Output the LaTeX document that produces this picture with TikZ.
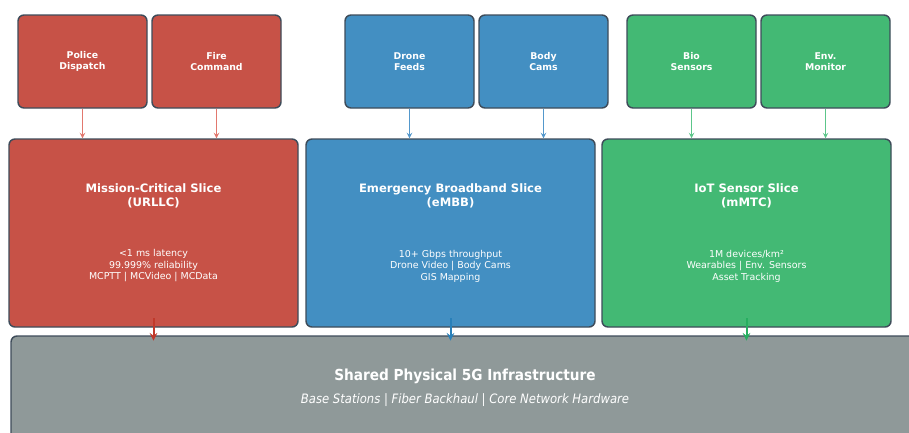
\documentclass[tikz,border=0pt]{standalone}
\usepackage{fontspec}
\setmainfont{DejaVu Sans}
\newfontfamily\condensedfont{DejaVu Sans Condensed}
\usetikzlibrary{shapes.geometric, arrows}
\definecolor{slicered}{RGB}{199,82,71}
\definecolor{sliceblue}{RGB}{67,143,194}
\definecolor{slicegreen}{RGB}{67,185,116}
\definecolor{infragray}{RGB}{143,153,153}
\definecolor{edgegray}{RGB}{62,76,90}
\definecolor{feedred}{RGB}{226,120,110}
\definecolor{feedblue}{RGB}{84,152,204}
\definecolor{feedgreen}{RGB}{92,198,138}
\definecolor{linkred}{RGB}{192,57,43}
\definecolor{linkblue}{RGB}{41,128,185}
\definecolor{linkgreen}{RGB}{39,174,96}
\newcommand{\slicetitle}{\bfseries\fontsize{8.7}{10.5}\selectfont}
\tikzstyle{source} = [rectangle, rounded corners=4.5pt, minimum width=96.75pt, minimum height=69.75pt, text centered, align=center, draw=edgegray, line width=1.1pt, text=white, font=\bfseries\fontsize{7}{8.4}\selectfont]
\tikzstyle{slice} = [rectangle, rounded corners=4.5pt, minimum width=216.75pt, minimum height=141pt, text centered, align=center, draw=edgegray, line width=1.1pt, text=white, font=\fontsize{7.1}{8.6}\selectfont]
\tikzstyle{infra} = [rectangle, rounded corners=4.5pt, minimum width=681pt, minimum height=78pt, text centered, align=center, draw=edgegray, line width=1.1pt, fill=infragray, text=white]
\tikzstyle{feed} = [->,>=stealth, line width=0.8pt]
\tikzstyle{uplink} = [->,>=stealth, line width=1.5pt]

\begin{document}
\begin{tikzpicture}[x=0.75pt, y=-0.75pt]

\useasboundingbox (0,0) rectangle (909,432);

\node (infra) [infra] at (465,388) {{\condensedfont\bfseries\fontsize{11.4}{13.6}\selectfont Shared Physical 5G Infrastructure}\\[5.5pt]{\condensedfont\itshape\fontsize{9.7}{11.6}\selectfont Base Stations | Fiber Backhaul | Core Network Hardware}};

\node (police) [source, fill=slicered] at (82.5,61.5) {Police\\Dispatch};
\node (fire) [source, fill=slicered] at (216.5,61.5) {Fire\\Command};
\node (drone) [source, fill=sliceblue] at (409.5,61.5) {Drone\\Feeds};
\node (body) [source, fill=sliceblue] at (543.5,61.5) {Body\\Cams};
\node (bio) [source, fill=slicegreen] at (691.5,61.5) {Bio\\Sensors};
\node (env) [source, fill=slicegreen] at (825.5,61.5) {Env.\\Monitor};

\node (urllc) [slice, fill=slicered] at (153.5,233) {{\slicetitle Mission-Critical Slice}\\[2pt]{\slicetitle (URLLC)}\\[29pt]\textless1 ms latency\\99.999\% reliability\\MCPTT | MCVideo | MCData};
\node (embb) [slice, fill=sliceblue] at (450.5,233) {{\slicetitle Emergency Broadband Slice}\\[2pt]{\slicetitle (eMBB)}\\[29pt]10+ Gbps throughput\\Drone Video | Body Cams\\GIS Mapping};
\node (mmtc) [slice, fill=slicegreen] at (746.5,233) {{\slicetitle IoT Sensor Slice}\\[2pt]{\slicetitle (mMTC)}\\[29pt]1M devices/km²\\Wearables | Env. Sensors\\Asset Tracking};

\draw [feed, feedred] (police) -- (police |- urllc.north);
\draw [feed, feedred] (fire) -- (fire |- urllc.north);
\draw [feed, feedblue] (drone) -- (drone |- embb.north);
\draw [feed, feedblue] (body) -- (body |- embb.north);
\draw [feed, feedgreen] (bio) -- (bio |- mmtc.north);
\draw [feed, feedgreen] (env) -- (env |- mmtc.north);

\draw [uplink, linkred] ([yshift=7pt]urllc.south) -- ([yshift=-4pt]urllc.south |- infra.north);
\draw [uplink, linkblue] ([yshift=7pt]embb.south) -- ([yshift=-4pt]embb.south |- infra.north);
\draw [uplink, linkgreen] ([yshift=7pt]mmtc.south) -- ([yshift=-4pt]mmtc.south |- infra.north);

\end{tikzpicture}
\end{document}
